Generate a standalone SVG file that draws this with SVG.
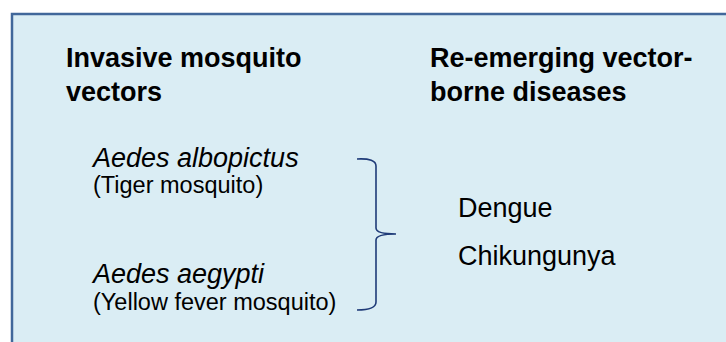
<svg xmlns="http://www.w3.org/2000/svg" width="726" height="342" viewBox="0 0 726 342">
<style>
.t{font-family:"Liberation Sans",Arial,sans-serif;fill:#000}
.h{font-size:27px;font-weight:bold}
.i{font-size:27px;font-style:italic}
.p{font-size:23.5px}
.d{font-size:27px}
</style>
<rect width="726" height="342" fill="#ffffff"/>
<g id="panel">
<rect x="12" y="14" width="800" height="400" fill="#daedf4" stroke="#41679a" stroke-width="2.5"/>
</g>
<g id="heading-left">
<text class="t h" x="66" y="67">Invasive mosquito</text>
<text class="t h" x="66" y="101">vectors</text>
</g>
<g id="heading-right">
<text class="t h" x="430" y="67">Re-emerging vector-</text>
<text class="t h" x="430" y="101">borne diseases</text>
</g>
<g id="albopictus">
<text class="t i" x="93" y="167">Aedes albopictus</text>
<text class="t p" x="93" y="193">(Tiger mosquito)</text>
</g>
<g id="aegypti">
<text class="t i" x="93" y="283">Aedes aegypti</text>
<text class="t p" x="93" y="310">(Yellow fever mosquito)</text>
</g>
<g id="diseases">
<text class="t d" x="458" y="217">Dengue</text>
<text class="t d" x="458" y="265">Chikungunya</text>
</g>
<g id="connectors">
<path d="M357,159 Q376,158 376,166 L376,228 Q376,234 396,234 Q376,234 376,240 L376,302 Q376,310 357,310" fill="none" stroke="#1f3b78" stroke-width="1.6"/>
</g>
</svg>
